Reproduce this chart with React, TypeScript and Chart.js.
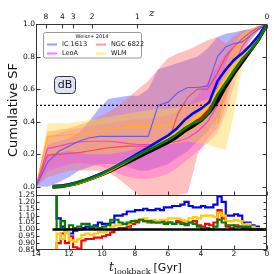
import React, { useEffect, useRef } from 'react';
import { Chart, registerables } from 'chart.js';

Chart.register(...registerables);

// ---------- axis ticks ----------
const X_TICKS = [14, 12, 10, 8, 6, 4, 2, 0];
const Z_LABELS = ['8', '4', '3', '2', '1', '0'];
const Z_LOOKBACK = [13.4, 12.4, 11.75, 10.6, 7.85, 0.0];
const Y_TICKS = [0, 0.2, 0.4, 0.6, 0.8, 1.0];
const R_TICKS = [0.85, 0.9, 0.95, 1.0, 1.05, 1.1, 1.15, 1.2, 1.25];

// ---------- model cumulative SFHs ----------
const T_MODEL = [13.0, 12.5, 12.0, 11.5, 11.0, 10.5, 10.0, 9.5, 9.0, 8.5, 8.0, 7.5, 7.0, 6.5, 6.0, 5.5, 5.0, 4.5, 4.0, 3.5, 3.0, 2.5, 2.0, 1.5, 1.0, 0.5, 0.25, 0.0];
const SF_BLACK = [0, 0.003, 0.012, 0.024, 0.04, 0.058, 0.078, 0.1, 0.125, 0.15, 0.175, 0.2, 0.225, 0.25, 0.275, 0.305, 0.345, 0.375, 0.41, 0.46, 0.53, 0.62, 0.7, 0.77, 0.84, 0.91, 0.955, 1.0];
const SF_BLUE = [0, 0.004, 0.013, 0.026, 0.043, 0.062, 0.084, 0.108, 0.135, 0.165, 0.195, 0.225, 0.255, 0.285, 0.315, 0.355, 0.41, 0.45, 0.48, 0.52, 0.65, 0.72, 0.78, 0.82, 0.87, 0.93, 0.97, 1.0];
const SF_RED = [0, 0.003, 0.011, 0.021, 0.037, 0.055, 0.075, 0.098, 0.126, 0.154, 0.184, 0.212, 0.238, 0.265, 0.289, 0.322, 0.355, 0.395, 0.42, 0.475, 0.6, 0.64, 0.71, 0.78, 0.84, 0.91, 0.955, 1.0];
const SF_YELLOW = [0, 0.003, 0.011, 0.022, 0.039, 0.057, 0.077, 0.101, 0.13, 0.157, 0.187, 0.216, 0.24, 0.27, 0.297, 0.33, 0.365, 0.408, 0.45, 0.505, 0.595, 0.66, 0.75, 0.8, 0.86, 0.915, 0.96, 1.0];
const SF_GREEN = [0, 0.003, 0.012, 0.025, 0.042, 0.06, 0.08, 0.107, 0.133, 0.158, 0.186, 0.213, 0.237, 0.263, 0.289, 0.32, 0.36, 0.39, 0.41, 0.46, 0.567, 0.64, 0.714, 0.785, 0.84, 0.905, 0.955, 1.0];

// ---------- ratio panel ----------
const T_R = [13.0, 12.75, 12.5, 12.25, 12.0, 11.75, 11.5, 11.25, 11.0, 10.75, 10.5, 10.25, 10.0, 9.75, 9.5, 9.25, 9.0, 8.75, 8.5, 8.25, 8.0, 7.75, 7.5, 7.25, 7.0, 6.75, 6.5, 6.25, 6.0, 5.75, 5.5, 5.25, 5.0, 4.75, 4.5, 4.25, 4.0, 3.75, 3.5, 3.25, 3.0, 2.75, 2.5, 2.25, 2.0, 1.75, 1.5, 1.25, 1.0, 0.75, 0.5, 0.25, 0.0];
const R_BLUE = [1.4, 1.08, 1.02, 0.98, 0.97, 0.99, 1.0, 1.01, 1.02, 1.01, 1.03, 1.05, 1.04, 1.04, 1.05, 1.1, 1.1, 1.11, 1.13, 1.13, 1.14, 1.14, 1.15, 1.14, 1.14, 1.15, 1.14, 1.16, 1.16, 1.17, 1.17, 1.18, 1.2, 1.17, 1.16, 1.16, 1.17, 1.16, 1.16, 1.18, 1.24, 1.2, 1.1, 1.1, 1.11, 1.1, 1.05, 1.05, 1.03, 1.02, 1.0, 1.0, 1.0];
const R_RED = [0.5, 0.9, 0.97, 0.9, 0.95, 0.87, 0.86, 0.92, 0.93, 0.93, 0.94, 0.94, 0.95, 0.96, 0.98, 1.0, 1.01, 1.01, 1.02, 1.04, 1.05, 1.07, 1.06, 1.05, 1.06, 1.05, 1.06, 1.05, 1.05, 1.04, 1.06, 1.05, 1.03, 1.05, 1.06, 1.03, 1.02, 1.04, 1.03, 1.05, 1.14, 1.08, 1.02, 1.01, 1.03, 1.02, 1.01, 1.01, 1.0, 1.01, 1.0, 1.0, 1.0];
const R_YELLOW = [0.5, 0.97, 0.93, 0.98, 0.92, 0.91, 0.93, 0.96, 0.97, 0.96, 0.97, 0.98, 0.98, 0.99, 1.02, 1.03, 1.03, 1.04, 1.04, 1.06, 1.07, 1.07, 1.08, 1.06, 1.07, 1.06, 1.07, 1.07, 1.08, 1.08, 1.08, 1.07, 1.06, 1.08, 1.09, 1.08, 1.1, 1.1, 1.1, 1.09, 1.12, 1.1, 1.06, 1.06, 1.07, 1.06, 1.03, 1.04, 1.02, 1.01, 1.0, 1.0, 1.0];
const R_GREEN = [1.4, 1.0, 1.06, 1.0, 1.03, 1.01, 1.02, 1.04, 1.04, 1.02, 1.02, 1.01, 1.02, 1.03, 1.07, 1.07, 1.05, 1.04, 1.05, 1.06, 1.06, 1.07, 1.06, 1.06, 1.05, 1.05, 1.05, 1.04, 1.05, 1.04, 1.05, 1.04, 1.04, 1.05, 1.04, 1.02, 1.0, 1.01, 1.0, 1.02, 1.07, 1.05, 1.03, 1.03, 1.02, 1.02, 1.02, 1.02, 1.0, 1.0, 1.0, 1.0, 1.0];
const T_R_BLACK = [13.0, 0.0];
const R_BLACK = [1.0, 1.0];

// ---------- Weisz+ 2014 bands ----------
const T_W = [14.0, 13.3, 12.6, 12.0, 11.4, 10.8, 10.2, 9.6, 9.0, 8.4, 7.8, 7.2, 6.6, 6.0, 5.4, 4.8, 4.2, 3.6, 3.0, 2.5, 2.0, 1.5, 1.0, 0.5, 0.0];
const IC_MED = [0, 0.15, 0.22, 0.25, 0.28, 0.3, 0.31, 0.31, 0.31, 0.31, 0.31, 0.31, 0.5, 0.52, 0.58, 0.61, 0.61, 0.62, 0.8, 0.86, 0.88, 0.89, 0.93, 0.97, 1.0];
const IC_UP = [0, 0.26, 0.28, 0.3, 0.33, 0.4, 0.48, 0.54, 0.55, 0.56, 0.56, 0.6, 0.72, 0.74, 0.76, 0.78, 0.8, 0.85, 0.92, 0.94, 0.95, 0.96, 0.97, 0.99, 1.0];
const IC_LO = [0, 0.0, 0.03, 0.06, 0.1, 0.12, 0.14, 0.14, 0.14, 0.12, 0.1, 0.1, 0.12, 0.14, 0.18, 0.22, 0.28, 0.34, 0.42, 0.55, 0.7, 0.82, 0.9, 0.96, 1.0];
const NGC_MED = [0, 0.195, 0.2, 0.205, 0.21, 0.22, 0.23, 0.24, 0.245, 0.25, 0.25, 0.25, 0.25, 0.27, 0.45, 0.55, 0.6, 0.6, 0.7, 0.8, 0.86, 0.91, 0.95, 0.98, 1.0];
const NGC_UP = [0, 0.34, 0.35, 0.36, 0.38, 0.4, 0.43, 0.46, 0.5, 0.55, 0.6, 0.65, 0.72, 0.79, 0.82, 0.84, 0.87, 0.9, 0.92, 0.88, 0.93, 0.96, 0.97, 0.99, 1.0];
const NGC_LO = [0, 0.06, 0.08, 0.1, 0.1, 0.1, 0.1, 0.09, 0.05, 0.0, -0.05, -0.05, -0.05, -0.05, -0.05, -0.04, 0.2, 0.3, 0.36, 0.5, 0.7, 0.85, 0.92, 0.97, 1.0];
const LEOA_MED = [0, 0.235, 0.25, 0.265, 0.275, 0.28, 0.28, 0.28, 0.275, 0.265, 0.26, 0.26, 0.26, 0.27, 0.28, 0.3, 0.34, 0.4, 0.5, 0.62, 0.75, 0.86, 0.93, 0.97, 1.0];
const LEOA_UP = [0, 0.31, 0.33, 0.35, 0.36, 0.37, 0.38, 0.39, 0.4, 0.41, 0.42, 0.42, 0.43, 0.44, 0.46, 0.5, 0.56, 0.65, 0.74, 0.82, 0.88, 0.93, 0.96, 0.98, 1.0];
const LEOA_LO = [0, 0.1, 0.12, 0.14, 0.15, 0.14, 0.13, 0.11, 0.08, 0.06, 0.05, 0.05, 0.06, 0.08, 0.12, 0.17, 0.22, 0.27, 0.33, 0.45, 0.62, 0.78, 0.9, 0.96, 1.0];
const WLM_MED = [0, 0.31, 0.315, 0.32, 0.325, 0.33, 0.34, 0.35, 0.36, 0.37, 0.37, 0.37, 0.37, 0.38, 0.38, 0.39, 0.39, 0.39, 0.39, 0.6, 0.8, 0.9, 0.95, 0.98, 1.0];
const WLM_UP = [0, 0.39, 0.39, 0.39, 0.4, 0.41, 0.42, 0.43, 0.44, 0.45, 0.46, 0.47, 0.48, 0.48, 0.49, 0.5, 0.52, 0.54, 0.58, 0.75, 0.88, 0.94, 0.97, 0.99, 1.0];
const WLM_LO = [0, 0.2, 0.21, 0.22, 0.21, 0.2, 0.2, 0.2, 0.21, 0.22, 0.24, 0.25, 0.26, 0.26, 0.27, 0.28, 0.27, 0.26, 0.24, 0.23, 0.45, 0.75, 0.9, 0.96, 1.0];

const HALF_X = [14, 0];
const HALF_Y = [0.5, 0.5];

const LEGEND_TITLE = 'Weisz+ 2014';
const LEGEND_NAMES = ['IC 1613', 'NGC 6822', 'LeoA', 'WLM'];
const LEGEND_COLORS = ['#9a9aff', '#ff9a9a', '#ff77ff', '#ffee77'];

const pts = (xs: number[], ys: number[]) => xs.map((x, i) => ({ x, y: ys[i] }));

function rr(ctx: CanvasRenderingContext2D, x: number, y: number, w: number, h: number, r: number) {
  ctx.beginPath();
  ctx.moveTo(x + r, y);
  ctx.lineTo(x + w - r, y);
  ctx.arcTo(x + w, y, x + w, y + r, r);
  ctx.lineTo(x + w, y + h - r);
  ctx.arcTo(x + w, y + h, x + w - r, y + h, r);
  ctx.lineTo(x + r, y + h);
  ctx.arcTo(x, y + h, x, y + h - r, r);
  ctx.lineTo(x, y + r);
  ctx.arcTo(x, y, x + r, y, r);
  ctx.closePath();
}

const overlay = {
  id: 'overlay',
  afterDraw(chart: any) {
    const { ctx, scales } = chart;
    const x = scales.x, yM = scales.y, yR = scales.yR;
    const L = Math.round(x.left) + 0.5;
    const R = Math.round(x.right) - 0.5;
    const mT = Math.round(yM.top) + 0.5;
    const mB = Math.round(yM.bottom) + 0.5;
    const rB = Math.round(yR.bottom) - 0.5;
    ctx.save();
    ctx.strokeStyle = '#333';
    ctx.lineWidth = 1;
    const line = (x1: number, y1: number, x2: number, y2: number) => {
      ctx.beginPath(); ctx.moveTo(x1, y1); ctx.lineTo(x2, y2); ctx.stroke();
    };
    // frames
    ctx.strokeRect(L, mT, R - L, mB - mT);
    ctx.strokeRect(L, mB, R - L, rB - mB);
    // ticks
    Y_TICKS.forEach(v => {
      const p = Math.round(yM.getPixelForValue(v)) + 0.5;
      line(L, p, L + 4, p); line(R - 4, p, R, p);
    });
    R_TICKS.forEach(v => {
      const p = Math.round(yR.getPixelForValue(v)) + 0.5;
      line(L, p, L + 3, p); line(R - 3, p, R, p);
    });
    X_TICKS.forEach(v => {
      const p = Math.round(x.getPixelForValue(v)) + 0.5;
      line(p, mB, p, mB - 4); line(p, rB, p, rB - 4);
    });
    Z_LOOKBACK.forEach(v => {
      const p = Math.round(x.getPixelForValue(v)) + 0.5;
      line(p, mT, p, mT + 4);
    });
    // z label
    ctx.fillStyle = '#111';
    ctx.font = 'italic 10px "DejaVu Serif"';
    ctx.textAlign = 'center';
    ctx.textBaseline = 'middle';
    ctx.fillText('z', 152, 13);
    // y title
    ctx.save();
    ctx.translate(14, 110);
    ctx.rotate(-Math.PI / 2);
    ctx.font = '13px "DejaVu Sans"';
    ctx.fillText('Cumulative SF', 0, 0);
    ctx.restore();
    // x title
    ctx.textAlign = 'left';
    ctx.textBaseline = 'alphabetic';
    let cx = 109;
    ctx.font = 'italic 12px "DejaVu Serif"';
    ctx.fillText('t', cx, 271);
    cx += ctx.measureText('t').width + 0.5;
    ctx.font = '8px "DejaVu Serif"';
    ctx.fillText('lookback', cx, 273.5);
    cx += ctx.measureText('lookback').width + 3;
    ctx.font = '11px "DejaVu Sans"';
    ctx.fillText('[Gyr]', cx, 271);
    // legend
    rr(ctx, 43.5, 32.5, 98, 25.5, 2);
    ctx.fillStyle = 'rgba(255,255,255,0.9)';
    ctx.fill();
    ctx.strokeStyle = '#999';
    ctx.stroke();
    ctx.fillStyle = '#111';
    ctx.font = '5px "DejaVu Sans"';
    ctx.textAlign = 'center';
    ctx.textBaseline = 'middle';
    ctx.fillText(LEGEND_TITLE, 92, 37);
    ctx.textAlign = 'left';
    ctx.font = '6.5px "DejaVu Sans"';
    LEGEND_NAMES.forEach((name, i) => {
      const col = i % 2, row = Math.floor(i / 2);
      const sx = col === 0 ? 47 : 96;
      const ty = row === 0 ? 44.5 : 53.5;
      ctx.strokeStyle = LEGEND_COLORS[i];
      ctx.lineWidth = 2;
      line(sx, ty, sx + 10, ty);
      ctx.fillStyle = '#111';
      ctx.fillText(name, sx + 15, ty);
    });
    // dB box
    rr(ctx, 54.5, 76.5, 21, 17, 4);
    ctx.fillStyle = '#e2e2f8';
    ctx.fill();
    ctx.strokeStyle = '#333';
    ctx.lineWidth = 1;
    ctx.stroke();
    ctx.fillStyle = '#111';
    ctx.font = '11px "DejaVu Sans"';
    ctx.textAlign = 'center';
    ctx.fillText('dB', 65, 85.5);
    ctx.restore();
  },
};

export default function App() {
  const ref = useRef<HTMLCanvasElement>(null);
  useEffect(() => {
    document.body.style.margin = '0';
    const tickFont = { family: 'DejaVu Sans', size: 7.5 };
    const band = (lo: number[], up: number[], loIdx: number, color: string, order: number) => [
      { data: pts(T_W, lo), borderWidth: 0, pointRadius: 0, fill: false, order, yAxisID: 'y' },
      { data: pts(T_W, up), borderWidth: 0, pointRadius: 0, fill: loIdx, backgroundColor: color, order, yAxisID: 'y' },
    ];
    const ln = (xs: number[], ys: number[], color: string, width: number, order: number, axis = 'y', extra: any = {}) => ({
      data: pts(xs, ys), borderColor: color, borderWidth: width, pointRadius: 0, fill: false, order, yAxisID: axis, ...extra,
    });
    const datasets: any[] = [
      ...band(IC_LO, IC_UP, 0, 'rgba(105,105,255,0.5)', 140),
      ...band(NGC_LO, NGC_UP, 2, 'rgba(255,105,105,0.42)', 130),
      ...band(LEOA_LO, LEOA_UP, 4, 'rgba(255,60,225,0.32)', 120),
      ...band(WLM_LO, WLM_UP, 6, 'rgba(255,215,55,0.42)', 110),
      ln(T_W, IC_MED, '#6b5cf0', 1.2, 60),
      ln(T_W, NGC_MED, '#e8505a', 1.2, 60),
      ln(T_W, LEOA_MED, '#f040d8', 1.2, 60),
      ln(T_W, WLM_MED, '#ffb020', 1.2, 60),
      ln(HALF_X, HALF_Y, '#000', 1.3, 50, 'y', { borderDash: [2, 2] }),
      ln(T_MODEL, SF_BLACK, '#000000', 4, 9),
      ln(T_MODEL, SF_RED, '#ff0000', 2.5, 8),
      ln(T_MODEL, SF_YELLOW, '#ffcc00', 2.5, 7),
      ln(T_MODEL, SF_BLUE, '#0000ff', 2.5, 6),
      ln(T_MODEL, SF_GREEN, '#008000', 2.5, 5),
      ln(T_R, R_BLUE, '#0000ff', 2.2, 4, 'yR', { stepped: 'before' }),
      ln(T_R, R_RED, '#ff0000', 2.2, 4, 'yR', { stepped: 'before' }),
      ln(T_R, R_YELLOW, '#ffcc00', 2.2, 3, 'yR', { stepped: 'before' }),
      ln(T_R, R_GREEN, '#008000', 2.2, 2, 'yR', { stepped: 'before' }),
      ln(T_R_BLACK, R_BLACK, '#000000', 2.5, 1, 'yR'),
    ];
    const chart = new Chart(ref.current as HTMLCanvasElement, {
      type: 'line',
      data: { datasets },
      options: {
        animation: false,
        responsive: false,
        events: [],
        layout: { padding: { left: 0, right: 7, top: 0, bottom: 0 } },
        elements: { line: { tension: 0 }, point: { radius: 0 } },
        plugins: { legend: { display: false }, tooltip: { enabled: false } },
        scales: {
          x: {
            type: 'linear', position: 'bottom', min: 0, max: 14, reverse: true,
            afterBuildTicks: (s: any) => { s.ticks = X_TICKS.map(v => ({ value: v })); },
            afterFit: (s: any) => { s.height = 24; },
            ticks: { font: tickFont, color: '#111', padding: 0, maxRotation: 0, autoSkip: false, callback: (v: any) => String(v) },
            grid: { display: false, drawTicks: false }, border: { display: false },
          },
          xTop: {
            type: 'linear', position: 'top', min: 0, max: 14, reverse: true,
            afterBuildTicks: (s: any) => { s.ticks = Z_LOOKBACK.map(v => ({ value: v })); },
            afterFit: (s: any) => { s.height = 24; },
            ticks: { font: tickFont, color: '#111', padding: 2, maxRotation: 0, autoSkip: false, callback: (_v: any, i: number) => Z_LABELS[i] },
            grid: { display: false, drawTicks: false }, border: { display: false },
          },
          y: {
            type: 'linear', position: 'left', stack: 'v', stackWeight: 171, weight: 1, min: -0.05, max: 1.0,
            afterBuildTicks: (s: any) => { s.ticks = Y_TICKS.map(v => ({ value: v })); },
            afterFit: (s: any) => { s.width = 36; },
            ticks: { font: tickFont, color: '#111', padding: 1, autoSkip: false, callback: (v: any) => Number(v).toFixed(1) },
            grid: { display: false, drawTicks: false }, border: { display: false },
          },
          yR: {
            type: 'linear', position: 'left', stack: 'v', stackWeight: 55, weight: 0, min: 0.85, max: 1.25,
            afterBuildTicks: (s: any) => { s.ticks = R_TICKS.map(v => ({ value: v })); },
            afterFit: (s: any) => { s.width = 36; },
            ticks: { font: tickFont, color: '#111', padding: 1, autoSkip: false, callback: (v: any) => Number(v).toFixed(2) },
            grid: { display: false, drawTicks: false }, border: { display: false },
          },
        },
      } as any,
      plugins: [overlay],
    });
    return () => chart.destroy();
  }, []);
  return (
    <div style={{ width: 274, height: 274 }}>
      <canvas ref={ref} width={274} height={274} style={{ display: 'block' }} />
    </div>
  );
}
